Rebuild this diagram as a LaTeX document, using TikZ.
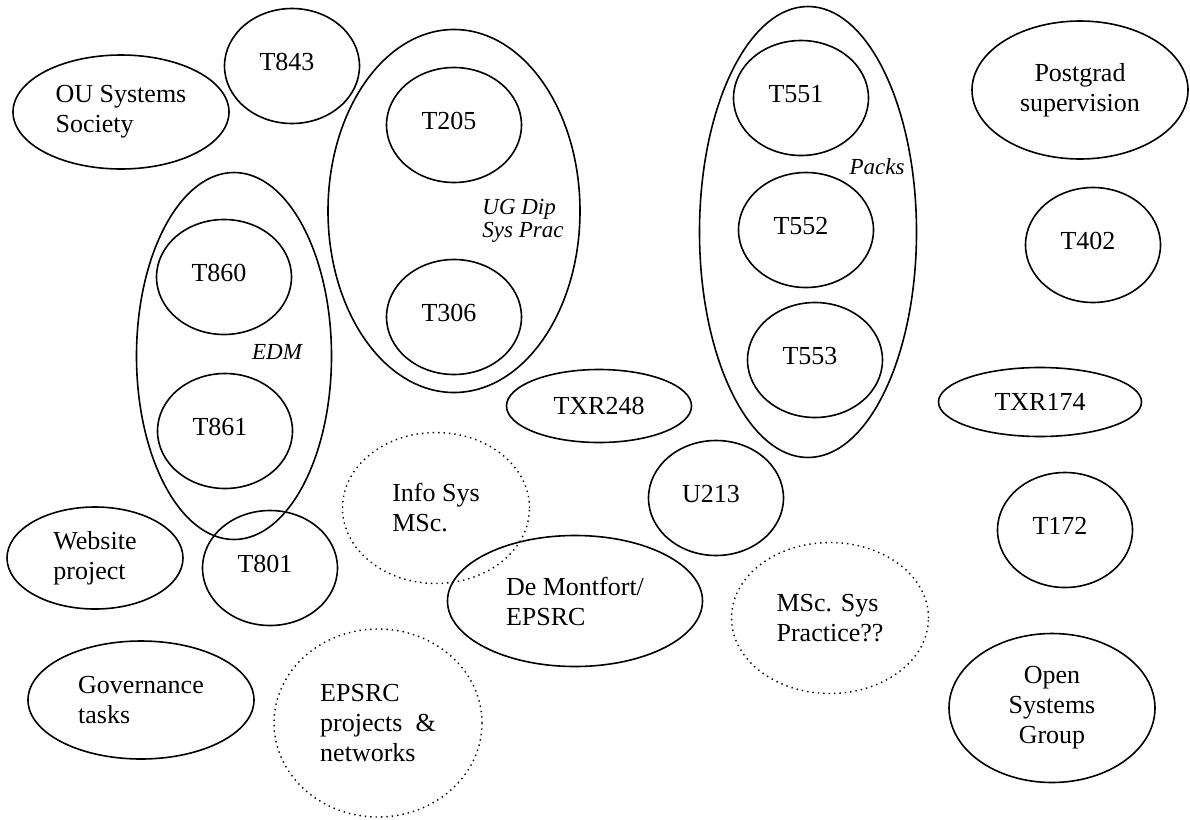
\documentclass[tikz,border=0pt]{standalone}
\usepackage{fontspec}
\setmainfont{Liberation Serif}
\usetikzlibrary{shapes.geometric}
\tikzset{
    course/.style = {
        ellipse,
        draw,
        line width = 0.8pt,
        inner sep = 0pt,
        minimum width = 67.5pt,
        minimum height = 57.5pt,
        execute at end node = {\hspace{5pt}\rule[-4.5pt]{0pt}{0pt}},
    },
    blob/.style = {
        ellipse,
        draw,
        line width = 0.8pt,
        inner sep = 0pt,
        align = left,
    },
    maybe/.style = {
        blob,
        line width = 0.7pt,
        dotted,
    },
    grouplabel/.style = {
        inner sep = 0pt,
        align = left,
        font = \fontsize{11.5}{11.5}\selectfont\itshape,
    }
}

\begin{document}
\begin{tikzpicture}[x=0.5pt, y=-0.5pt, font=\fontsize{13}{15}\selectfont]
    \useasboundingbox (0,0) rectangle (1190,820);

    % groups
    \node[blob, minimum width=126pt, minimum height=181.5pt] (UGDip) at (454,211) {};
    \node[blob, minimum width=97.5pt, minimum height=183.5pt] (EDM) at (234,356) {};
    \node[blob, minimum width=108.5pt, minimum height=225.5pt] (Packs) at (808,232) {};

    \node[grouplabel, anchor=west] (UGDipLabel) at (482,221) {UG Dip\\Sys Prac};
    \node[grouplabel] (EDMLabel) at (277,352) {EDM};
    \node[grouplabel] (PacksLabel) at (877,167) {Packs};

    % courses
    \node[course] (T843) at (292,66) {T843};
    \node[course] (T205) at (454,125) {T205};
    \node[course] (T306) at (454,317) {T306};
    \node[course] (T860) at (224,277) {T860};
    \node[course] (T861) at (225,431) {T861};
    \node[course] (T801) at (270,568) {T801};
    \node[course] (T551) at (801,98) {T551};
    \node[course] (T552) at (806,230) {T552};
    \node[course] (T553) at (815,360) {T553};
    \node[course] (U213) at (716,498) {U213};
    \node[course] (T402) at (1093,245) {T402};
    \node[course] (T172) at (1065,530) {T172};

    \node[blob, minimum width=92.5pt, minimum height=36.5pt] (TXR248) at (599,406) {TXR248};
    \node[blob, minimum width=101.5pt, minimum height=34.5pt] (TXR174) at (1040,402) {TXR174};

    % other work
    \node[blob, minimum width=108pt, minimum height=57pt] (OUSS) at (121,112) {OU Systems\\Society};
    \node[blob, align=center, minimum width=108pt, minimum height=69pt] (Postgrad) at (1080,90) {Postgrad\\supervision};
    \node[blob, minimum width=88pt, minimum height=51pt] (Website) at (95,558) {Website\\project};
    \node[blob, minimum width=113pt, minimum height=59pt] (Governance) at (141,700) {Governance\\tasks};
    \node[blob, minimum width=127.5pt, minimum height=65.5pt] (DeMontfort) at (575,601) {De Montfort/\\EPSRC};
    \node[blob, align=center, minimum width=103pt, minimum height=74.5pt] (OSG) at (1052,708) {Open\\Systems\\Group};

    % possible
    \node[maybe, minimum width=93.5pt, minimum height=75.5pt] (InfoSys) at (436,508) {Info Sys\\MSc.};
    \node[maybe, minimum width=98.5pt, minimum height=75.5pt] (MScSys) at (830,618) {MSc. Sys\\Practice??};
    \node[maybe, minimum width=104pt, minimum height=94pt] (EPSRC) at (378,723) {EPSRC\\projects\ \ \&\\networks};
\end{tikzpicture}
\end{document}
